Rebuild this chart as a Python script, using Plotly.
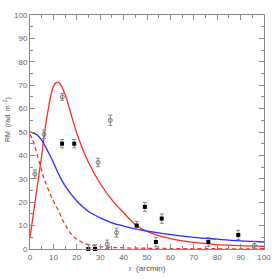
import plotly.graph_objects as go

# Data
filled_r = [13.7, 18.9, 24.9, 27.8, 45.6, 49.1, 53.8, 56.3, 76.2, 89.0]
filled_rm = [45.0, 45.0, 0.0, 0.0, 10.0, 18.0, 3.0, 13.0, 3.0, 6.0]
filled_err = [1.8, 1.8, 1.8, 1.8, 1.8, 1.9, 2.0, 2.0, 1.9, 2.0]

open_r = [2.1, 6.0, 13.8, 29.1, 33.0, 34.3, 37.0, 95.9]
open_rm = [32.0, 49.0, 65.0, 37.0, 2.0, 55.0, 7.0, 1.5]
open_err = [1.8, 1.8, 1.5, 1.8, 1.8, 2.2, 1.9, 1.8]

red_r = [0, 1, 2, 3, 4, 5, 6, 7, 8, 9, 10, 11, 12, 13, 14, 15, 16, 18, 20, 22, 25, 30, 35, 40, 45, 50, 60, 70, 80, 90, 100]
red_rm = [5, 12, 19, 26, 33, 40, 48, 55, 61, 66, 69.5, 71, 71.3, 70.5, 68.5, 66, 63, 56, 49.5, 44, 37, 28, 21, 15.5, 10.5, 7.5, 4.4, 2.8, 1.9, 1.4, 1.1]

dash_r = [0, 1, 2, 3, 4, 5, 6, 8, 10, 12, 14, 16, 18, 20, 22, 25, 30, 40, 60, 80, 100]
dash_rm = [49, 47, 44, 40.5, 37, 33.5, 30, 25, 20.5, 16.7, 12.3, 8.7, 6.0, 4.2, 3.0, 1.9, 1.0, 0.5, 0.2, 0.1, 0.1]

blue_r = [0, 3, 5, 8, 10, 12, 15, 20, 25, 30, 35, 40, 45, 50, 60, 70, 80, 90, 100]
blue_rm = [50, 48.8, 46.5, 41, 37, 32.5, 27, 20.5, 16, 13.3, 11.2, 9.8, 8.6, 7.6, 6.2, 5.0, 4.2, 3.5, 3.0]

fig = go.Figure()
fig.add_trace(go.Scatter(x=red_r, y=red_rm, mode="lines", line=dict(color="#ff2a2a", width=1.3, shape="spline")))
fig.add_trace(go.Scatter(x=dash_r, y=dash_rm, mode="lines", line=dict(color="#ff2a2a", width=1.3, dash="4px,3px", shape="spline")))
fig.add_trace(go.Scatter(x=blue_r, y=blue_rm, mode="lines", line=dict(color="#2a2aff", width=1.3, shape="spline")))
fig.add_trace(go.Scatter(
    x=open_r, y=open_rm, mode="markers", cliponaxis=False,
    marker=dict(symbol="circle-open", size=4, color="#777", line=dict(width=1, color="#777")),
    error_y=dict(type="data", array=open_err, color="#888", thickness=1, width=2)))
fig.add_trace(go.Scatter(
    x=filled_r, y=filled_rm, mode="markers", cliponaxis=False,
    marker=dict(symbol="square", size=4, color="black"),
    error_y=dict(type="data", array=filled_err, color="#888", thickness=1, width=2)))

axis_common = dict(
    range=[0, 100], dtick=10, ticks="inside", ticklen=5, tickcolor="#888", tickwidth=1,
    showline=True, linecolor="#888", linewidth=1, mirror="ticks", showgrid=False, zeroline=False,
    minor=dict(dtick=5, ticks="inside", ticklen=3, tickcolor="#888"),
    tickfont=dict(family="Liberation Sans, Arial", size=8, color="#666"),
    automargin=False,
)
fig.update_layout(
    width=279, height=279, showlegend=False,
    margin=dict(l=30, r=15, t=15, b=30, autoexpand=False),
    plot_bgcolor="white", paper_bgcolor="white",
    xaxis=dict(**axis_common),
    yaxis=dict(**axis_common),
    annotations=[
        dict(text="r  (arcmin)", x=0.5, y=-0.083, xref="paper", yref="paper", showarrow=False,
             yanchor="middle", font=dict(family="Liberation Sans, Arial", size=8, color="#555")),
        dict(text="RM  (rad  m<sup>−2</sup>)", x=0, xshift=-23, y=0.551, xref="paper", yref="paper",
             showarrow=False, textangle=-90, xanchor="center", yanchor="middle",
             font=dict(family="Liberation Sans, Arial", size=7, color="#555")),
    ],
)
fig.write_html("out.html", config={"displayModeBar": False},
               post_script="document.body.style.margin='0';document.body.style.overflow='hidden';")
